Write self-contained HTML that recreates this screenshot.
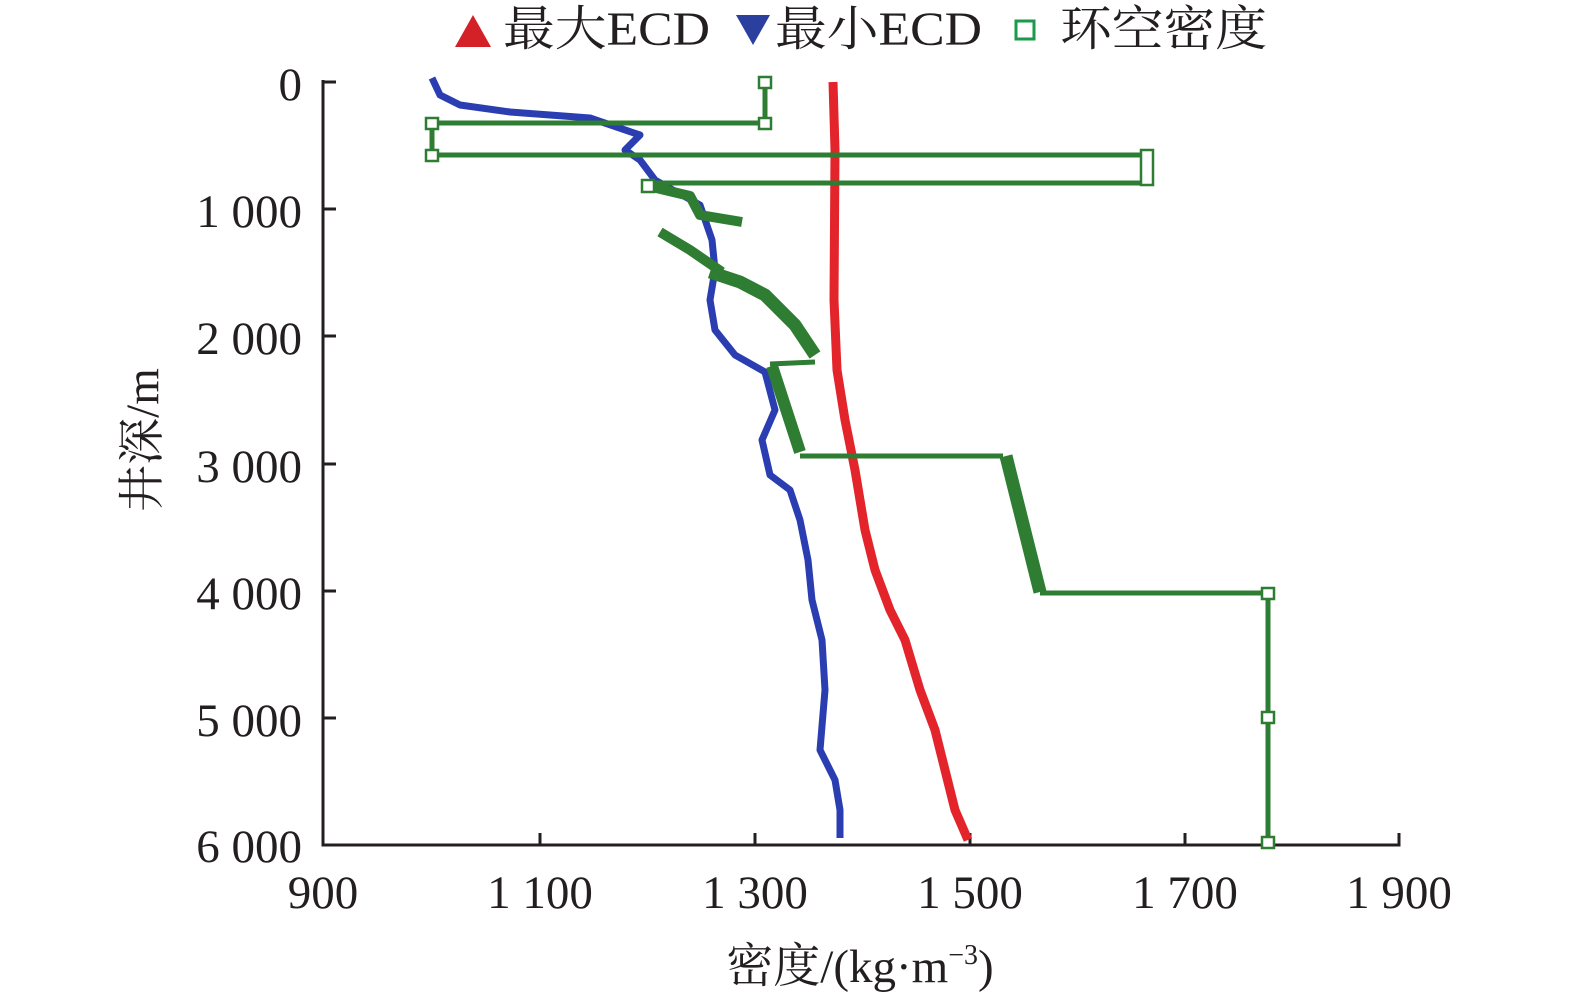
<!DOCTYPE html>
<html><head><meta charset="utf-8"><style>
html,body{margin:0;padding:0;background:#fff;}
svg{display:block;}
text{font-family:"Liberation Serif","Noto Serif CJK SC",serif;fill:#231f20;}
</style></head><body>
<svg width="1575" height="1002" viewBox="0 0 1575 1002" xmlns="http://www.w3.org/2000/svg">
<!-- legend -->
<polygon points="455,47 473,15 491,47" fill="#d42027"/>
<text x="503" y="45" font-size="48" textLength="207" lengthAdjust="spacingAndGlyphs">最大ECD</text>
<polygon points="736,15 770,15 753,45" fill="#2b3f9e"/>
<text x="775" y="45" font-size="48" textLength="207" lengthAdjust="spacingAndGlyphs">最小ECD</text>
<rect x="1016" y="21" width="18" height="18" fill="none" stroke="#1a9a4a" stroke-width="3"/>
<text x="1060" y="45" font-size="48" textLength="207" lengthAdjust="spacingAndGlyphs">环空密度</text>
<!-- axes -->
<g stroke="#231f20" stroke-width="3" fill="none">
<polyline points="323,80 323,845 1399,845 1399,833"/>
<line x1="323" y1="82" x2="336" y2="82"/>
<line x1="323" y1="209" x2="336" y2="209"/>
<line x1="323" y1="336" x2="336" y2="336"/>
<line x1="323" y1="464" x2="336" y2="464"/>
<line x1="323" y1="591" x2="336" y2="591"/>
<line x1="323" y1="718" x2="336" y2="718"/>
<line x1="540" y1="845" x2="540" y2="833"/>
<line x1="755" y1="845" x2="755" y2="833"/>
<line x1="970" y1="845" x2="970" y2="833"/>
<line x1="1185" y1="845" x2="1185" y2="833"/>
</g>
<g font-size="47" text-anchor="end">
<text x="302" y="100">0</text>
<text x="302" y="227">1 000</text>
<text x="302" y="354">2 000</text>
<text x="302" y="482">3 000</text>
<text x="302" y="609">4 000</text>
<text x="302" y="736">5 000</text>
<text x="302" y="862">6 000</text>
</g>
<g font-size="47" text-anchor="middle">
<text x="323" y="908">900</text>
<text x="540" y="908">1 100</text>
<text x="755" y="908">1 300</text>
<text x="970" y="908">1 500</text>
<text x="1185" y="908">1 700</text>
<text x="1399" y="908">1 900</text>
</g>
<text x="860" y="982" font-size="47" text-anchor="middle">密度/(kg·m<tspan font-size="28" dy="-18">−3</tspan><tspan dy="18">)</tspan></text>
<text transform="translate(158,440) rotate(-90)" font-size="47" text-anchor="middle">井深/m</text>
<!-- red -->
<polyline fill="none" stroke="#e3242b" stroke-width="9" stroke-linejoin="round" points="833,82 835,150 834,300 837,370 845,420 855,470 865,530 875,570 890,610 905,640 920,690 935,730 945,770 955,810 968,840"/>
<!-- blue -->
<polyline fill="none" stroke="#2a3eb1" stroke-width="7" stroke-linejoin="round" points="432,78 440,95 460,105 510,112 590,118 640,135 625,150 640,160 655,180 700,205 712,240 715,270 710,300 715,330 735,355 765,372 775,410 762,440 770,475 790,490 800,520 808,560 812,600 822,640 825,690 820,750 835,780 840,810 840,838"/>
<!-- green -->
<g fill="none" stroke="#2e7d32" stroke-linejoin="round">
<polyline stroke-width="5" points="765,82 765,123 432,123 432,155 1147,155 1147,183 648,183"/>
<polyline stroke-width="10" points="648,186 690,196 700,215 742,222"/>
<polyline stroke-width="10" points="660,232 690,250 722,272"/>
<polyline stroke-width="13" points="710,272 740,282 765,295 795,325 815,355"/>
<polyline stroke-width="5" points="815,362 770,364"/>
<polyline stroke-width="12" points="772,366 800,452"/>
<polyline stroke-width="5" points="800,456 1003,456"/>
<polyline stroke-width="13" points="1006,456 1040,592"/>
<polyline stroke-width="5" points="1040,593 1268,593 1268,843"/>
</g>
<g fill="#fff" stroke="#2e7d32" stroke-width="2.5">
<rect x="759" y="77" width="12" height="11"/>
<rect x="759" y="118" width="12" height="11"/>
<rect x="426" y="118" width="12" height="11"/>
<rect x="426" y="150" width="12" height="11"/>
<rect x="1141" y="150" width="12" height="35"/>
<rect x="642" y="180" width="12" height="12"/>
<rect x="1262" y="588" width="12" height="11"/>
<rect x="1262" y="712" width="12" height="11"/>
<rect x="1262" y="837" width="12" height="11"/>
</g>
</svg>
</body></html>
